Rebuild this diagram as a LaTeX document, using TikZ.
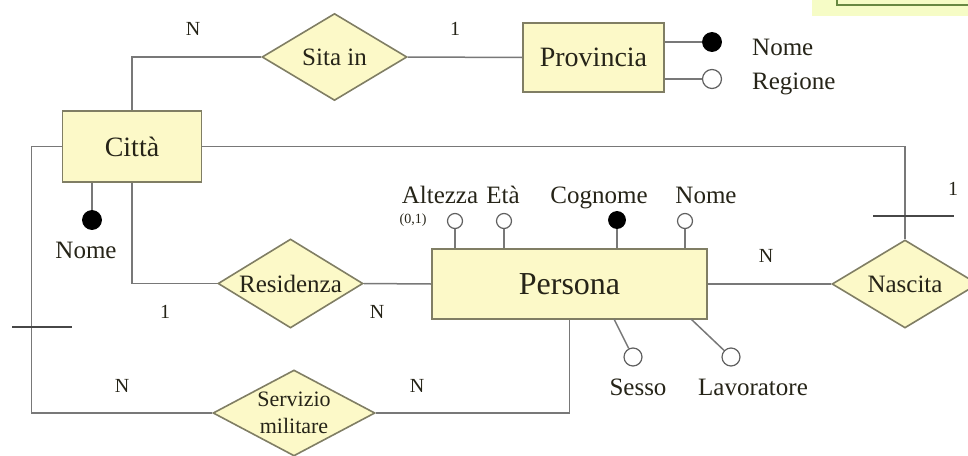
\documentclass[tikz,border=0pt]{standalone}
\usepackage{fontspec}
\setmainfont{Liberation Serif}
\usetikzlibrary{shapes.geometric}

\definecolor{erfill}{RGB}{252,249,200}
\definecolor{erborder}{RGB}{128,126,100}
\definecolor{erline}{RGB}{120,120,120}
\definecolor{ertext}{RGB}{38,36,24}
\definecolor{notefill}{RGB}{246,252,198}
\definecolor{noteedge}{RGB}{104,136,66}

\tikzset{
  entity/.style={rectangle, draw=erborder, fill=erfill, line width=1.6pt,
    inner sep=0pt, text=ertext, font=\fontsize{28}{30}\selectfont},
  relation/.style={diamond, draw=erborder, fill=erfill, line width=1.6pt,
    inner sep=0pt},
  reltext/.style={text=ertext, font=\fontsize{25}{27}\selectfont},
  keyattr/.style={circle, fill=black, draw=black, line width=0.8pt,
    inner sep=0pt, minimum size=#1},
  keyattr/.default=18pt,
  plainattr/.style={circle, fill=white, draw=erline!80!black, line width=1.2pt,
    inner sep=0pt, minimum size=#1},
  plainattr/.default=15pt,
  link/.style={draw=erline, line width=1.5pt},
  card/.style={text=ertext, font=\fontsize{20}{20}\selectfont, anchor=base, inner sep=0pt},
  attrname/.style={text=ertext, font=\fontsize{25}{25}\selectfont, anchor=base, inner sep=0pt},
  cardtick/.style={draw=black!72, line width=2.2pt}
}

\begin{document}
\begin{tikzpicture}[x=1pt, y=-1pt]
  \useasboundingbox (0,0) rectangle (968,455);

  % note box cut by the top-right corner
  \fill[notefill] (812,0) rectangle (968,16);
  \draw[noteedge, line width=2pt] (837,0) -- (837,5) -- (968,5);

  % entities
  \node[entity, minimum width=141pt, minimum height=69pt] (prov) at (593.5,57.5) {Provincia};
  \node[entity, minimum width=139pt, minimum height=71pt] (citta) at (132,146.5) {Città};
  \node[entity, minimum width=275pt, minimum height=70pt,
        font=\fontsize{32}{34}\selectfont] (pers) at (569.5,284) {Persona};

  % relationships
  \node[relation, minimum width=145pt, minimum height=87pt,
        label={[reltext]center:Sita in}] (sita) at (334.5,57) {};
  \node[relation, minimum width=145pt, minimum height=89pt,
        label={[reltext]center:Residenza}] (res) at (290.5,283.5) {};
  \node[relation, minimum width=146pt, minimum height=88pt,
        label={[reltext]center:Nascita}] (nasc) at (905,284) {};
  \node[relation, minimum width=162pt, minimum height=86pt,
        label={[reltext, align=center, font=\fontsize{22}{27}\selectfont]center:{Servizio\\militare}}] (serv) at (294,413) {};

  % connectors between entities and relationships
  \draw[link] (citta.north) |- (sita.west);
  \draw[link] (sita.east) -- (prov.west);
  \draw[link] (citta.east) -| (nasc.north);
  \draw[link] (citta.south) |- (res.west);
  \draw[link] (res.east) -- (pers.west);
  \draw[link] (pers.east) -- (nasc.west);
  \draw[link] (citta.west) -- ++(-30,0) |- (serv.west);
  \draw[link] (serv.east) -| (pers.south);

  % cardinality bars
  \coordinate (barL1) at (12,327);
  \coordinate (barL2) at (72,327);
  \draw[cardtick] (barL1) -- (barL2);
  \coordinate (barR1) at (873,216);
  \coordinate (barR2) at (954,216);
  \draw[cardtick] (barR1) -- (barR2);

  % cardinalities
  \node[card] at (193,35) {N};
  \node[card] at (455,35) {1};
  \node[card] at (953,195) {1};
  \node[card] at (165,318) {1};
  \node[card] at (377,318) {N};
  \node[card] at (766,262) {N};
  \node[card] at (122,392) {N};
  \node[card] at (417,392) {N};

  % attributes of Provincia
  \node[keyattr=19pt] (pnome) at (712,42) {};
  \node[plainattr=19pt] (preg) at (712,79) {};
  \draw[link] (prov.east |- pnome) -- (pnome);
  \draw[link] (prov.east |- preg) -- (preg);
  \node[attrname, anchor=base west] at (752,55) {Nome};
  \node[attrname, anchor=base west] at (752,89) {Regione};

  % attribute of Città
  \node[keyattr=19pt] (cnome) at (92,220) {};
  \draw[link] (citta.south -| cnome) -- (cnome);
  \node[attrname] at (86,258) {Nome};

  % attributes of Persona
  \node[plainattr] (alt) at (455,221) {};
  \node[plainattr] (eta) at (504,221) {};
  \node[keyattr=17pt] (cogn) at (617,220) {};
  \node[plainattr] (pnm) at (685,221) {};
  \foreach \a in {alt,eta,cogn,pnm}
    \draw[link] (pers.north -| \a) -- (\a);
  \node[attrname] at (440,203) {Altezza};
  \node[text=ertext, font=\fontsize{14}{14}\selectfont, anchor=base, inner sep=0pt] at (413,223) {(0,1)};
  \node[attrname] at (503,203) {Età};
  \node[attrname] at (599,203) {Cognome};
  \node[attrname] at (706,203) {Nome};

  \node[plainattr=18pt] (sesso) at (633,357) {};
  \node[plainattr=18pt] (lav) at (731,357) {};
  \coordinate (sessoFoot) at (614,319);
  \coordinate (lavFoot) at (691,319);
  \draw[link] (sessoFoot) -- (sesso);
  \draw[link] (lavFoot) -- (lav);
  \node[attrname] at (638,395) {Sesso};
  \node[attrname] at (753,395) {Lavoratore};
\end{tikzpicture}
\end{document}
